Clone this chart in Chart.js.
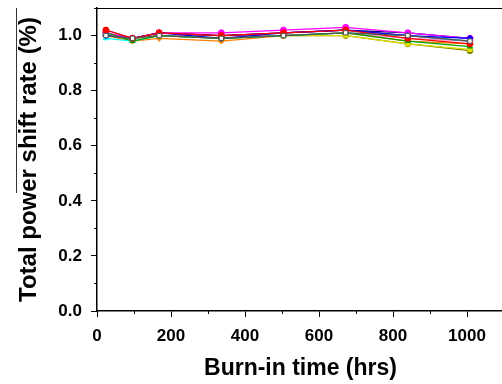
<!DOCTYPE html>
<html>
<head>
<meta charset="utf-8">
<script src="https://cdn.jsdelivr.net/npm/chart.js@4"></script>
<style>
  html, body { margin: 0; padding: 0; background: #fff; overflow: hidden; }
  #wrap { width: 510px; height: 384px; }
</style>
</head>
<body>
<div id="wrap"><canvas id="c" width="510" height="384"></canvas></div>
<script>
// burn-in times (hrs)
const hours = [24, 96, 168, 336, 504, 672, 840, 1008];

// power shift rate per sample
const s1 = [1.00, 0.99, 1.00, 0.99, 1.00, 1.01, 1.00, 0.98];
const s2 = [1.02, 0.99, 1.01, 1.00, 1.01, 1.02, 0.99, 0.97];
const s3 = [1.01, 0.98, 1.00, 0.99, 1.00, 1.01, 0.98, 0.96];
const s4 = [1.00, 0.99, 1.01, 0.99, 1.01, 1.02, 1.00, 0.99];
const s5 = [0.99, 0.98, 1.00, 0.99, 1.00, 1.01, 1.00, 0.98];
const s6 = [1.01, 0.99, 1.01, 1.01, 1.02, 1.03, 1.01, 0.99];
const s7 = [1.00, 0.99, 1.00, 0.99, 1.00, 1.00, 0.97, 0.95];
const s8 = [1.01, 0.99, 1.00, 0.99, 1.00, 1.00, 0.97, 0.945];
const s9 = [1.00, 0.99, 1.01, 1.00, 1.01, 1.02, 1.01, 0.99];
const s10 = [1.02, 0.99, 1.01, 1.00, 1.01, 1.02, 1.00, 0.98];
const s11 = [1.00, 0.98, 0.99, 0.98, 1.00, 1.01, 0.98, 0.97];
const s12 = [1.00, 0.99, 1.00, 1.00, 1.00, 1.01, 0.99, 0.98];

const xTicks = [0, 200, 400, 600, 800, 1000];
const yTicks = [0.0, 0.2, 0.4, 0.6, 0.8, 1.0];

const seriesList = [
  { v: s1, color: '#555555', style: 'rect', fill: '#ffffff' },
  { v: s2, color: '#ff0000', style: 'circle' },
  { v: s3, color: '#00a000', style: 'triangle' },
  { v: s4, color: '#0000ff', style: 'rectRot' },
  { v: s5, color: '#00ffff', style: 'triangle' },
  { v: s6, color: '#ff00ff', style: 'circle' },
  { v: s7, color: '#e0e000', style: 'rect' },
  { v: s8, color: '#808000', style: 'circle' },
  { v: s9, color: '#000080', style: 'rect' },
  { v: s10, color: '#800080', style: 'triangle' },
  { v: s11, color: '#ff8000', style: 'rectRot' },
  { v: s12, color: '#ff80c0', style: 'circle' },
];

const FONT = 'Liberation Sans, Arial, sans-serif';

const minorTicks = {
  id: 'minorTicks',
  afterDraw(chart) {
    const { ctx, chartArea, scales } = chart;
    ctx.save();
    ctx.strokeStyle = '#000';
    ctx.lineWidth = 1;
    ctx.beginPath();
    for (let v = 100; v <= 1100; v += 200) {
      const x = Math.round(scales.x.getPixelForValue(v)) + 0.5;
      ctx.moveTo(x, chartArea.bottom);
      ctx.lineTo(x, chartArea.bottom + 3);
    }
    for (let v = 0.1; v <= 1.1; v += 0.2) {
      const y = Math.round(scales.y.getPixelForValue(v)) + 0.5;
      ctx.moveTo(chartArea.left, y);
      ctx.lineTo(chartArea.left - 3, y);
    }
    // top frame line
    ctx.moveTo(chartArea.left, chartArea.top + 0.5);
    ctx.lineTo(chartArea.right, chartArea.top + 0.5);
    ctx.stroke();
    // stray line left of the axis title
    ctx.strokeStyle = '#333';
    ctx.beginPath();
    ctx.moveTo(16.5, 8);
    ctx.lineTo(16.5, 193);
    ctx.stroke();
    ctx.restore();
  }
};

new Chart(document.getElementById('c'), {
  type: 'line',
  plugins: [minorTicks],
  data: {
    datasets: seriesList.map((s, i) => ({
      label: 'S' + (i + 1),
      data: hours.map((h, j) => ({ x: h, y: s.v[j] })),
      borderColor: s.color,
      backgroundColor: s.fill || s.color,
      pointBackgroundColor: s.fill || s.color,
      pointBorderColor: s.color,
      pointStyle: s.style,
      pointRadius: 3,
      pointBorderWidth: 1,
      borderWidth: 1.2,
      tension: 0,
    }))
  },
  options: {
    responsive: false,
    animation: false,
    layout: { padding: { top: 8, right: 6, left: 0, bottom: 0 } },
    scales: {
      x: {
        type: 'linear',
        min: 0,
        max: 1100,
        afterBuildTicks(scale) { scale.ticks = xTicks.map(v => ({ value: v })); },
        afterFit(scale) { scale.height = 73; },
        border: { color: '#000', width: 1.5 },
        grid: { drawOnChartArea: false, tickLength: 6, tickColor: '#000' },
        ticks: {
          color: '#000',
          padding: 9,
          font: { family: FONT, size: 17, weight: 'bold' },
          callback: v => String(v)
        },
        title: {
          display: true,
          text: 'Burn-in time (hrs)',
          color: '#000',
          font: { family: FONT, size: 23, weight: 'bold' },
          padding: { top: 0, bottom: 2 }
        }
      },
      y: {
        min: 0,
        max: 1.1,
        afterBuildTicks(scale) { scale.ticks = yTicks.map(v => ({ value: v })); },
        afterFit(scale) { scale.width = 97; scale.paddingTop = 0; scale.paddingBottom = 0; },
        border: { color: '#000', width: 1.5 },
        grid: { drawOnChartArea: false, tickLength: 6, tickColor: '#000' },
        ticks: {
          color: '#000',
          padding: 9,
          font: { family: FONT, size: 17, weight: 'bold' },
          callback: v => v.toFixed(1)
        },
        title: {
          display: true,
          text: 'Total power shift rate (%)',
          color: '#000',
          font: { family: FONT, size: 24, weight: 'bold' },
          padding: { top: 15, bottom: 0 }
        }
      }
    },
    plugins: {
      legend: { display: false },
      tooltip: { enabled: false }
    }
  }
});
</script>
</body>
</html>
